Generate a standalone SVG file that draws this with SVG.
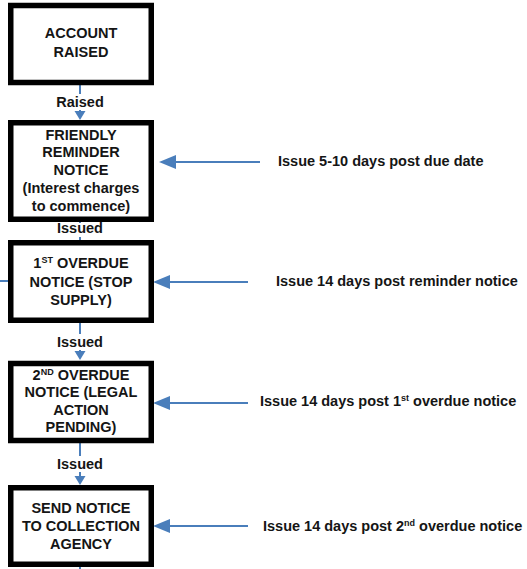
<svg xmlns="http://www.w3.org/2000/svg" width="527" height="569" viewBox="0 0 527 569">
<defs>
<style>
.box{fill:#fff;stroke:#000;stroke-width:5.5}
.t{font-family:"Liberation Sans",Arial,sans-serif;font-weight:bold;font-size:14.5px;fill:#151515;text-anchor:middle}
.r{font-family:"Liberation Sans",Arial,sans-serif;font-weight:bold;font-size:14.5px;fill:#151515}
.c{stroke:#4a7ebb;stroke-width:2;fill:none}
.lbl{fill:#fff}
</style>
<marker id="vh" markerUnits="userSpaceOnUse" markerWidth="12" markerHeight="12" refX="4" refY="5.5" orient="auto"><path d="M0,0 L9,5.5 L0,11 z" fill="#4a7ebb"/></marker>
<marker id="hh" markerUnits="userSpaceOnUse" markerWidth="18" markerHeight="15" refX="7" refY="7" orient="auto"><path d="M0,0 L17,7 L0,14 z" fill="#4a7ebb"/></marker>
</defs>
<rect width="527" height="569" fill="#fff"/>
<g id="connectors">
<line class="c" x1="80" y1="85" x2="80" y2="115" marker-end="url(#vh)"/>
<line class="c" x1="80" y1="222" x2="80" y2="240"/>
<line class="c" x1="80" y1="323" x2="80" y2="355" marker-end="url(#vh)"/>
<line class="c" x1="80" y1="443" x2="80" y2="480" marker-end="url(#vh)"/>
<line class="c" x1="80" y1="566" x2="80" y2="569"/>
<line class="c" x1="0" y1="281" x2="9" y2="281"/>
<line class="c" x1="260" y1="162" x2="169" y2="162" marker-end="url(#hh)"/>
<line class="c" x1="248" y1="282" x2="163" y2="282" marker-end="url(#hh)"/>
<line class="c" x1="248" y1="403" x2="163" y2="403" marker-end="url(#hh)"/>
<line class="c" x1="248" y1="526" x2="163" y2="526" marker-end="url(#hh)"/>
<rect class="lbl" x="55" y="94" width="50" height="16"/>
<text class="t" x="80" y="107">Raised</text>
<rect class="lbl" x="55" y="223" width="50" height="14"/>
<text class="t" x="80" y="233">Issued</text>
<rect class="lbl" x="55" y="334" width="50" height="16"/>
<text class="t" x="80" y="347">Issued</text>
<rect class="lbl" x="55" y="456" width="50" height="16"/>
<text class="t" x="80" y="469">Issued</text>
<text class="r" x="278" y="166">Issue 5-10 days post due date</text>
<text class="r" x="276" y="286">Issue 14 days post reminder notice</text>
<text class="r" x="260" y="406">Issue 14 days post 1<tspan font-size="9" dy="-5">st</tspan><tspan dy="5"> overdue notice</tspan></text>
<text class="r" x="263" y="531">Issue 14 days post 2<tspan font-size="9" dy="-5">nd</tspan><tspan dy="5"> overdue notice</tspan></text>
</g>
<g id="account-raised">
<rect class="box" x="10.75" y="5.5" width="140.5" height="77"/>
<text class="t" x="81" y="38">ACCOUNT</text>
<text class="t" x="81" y="57">RAISED</text>
</g>
<g id="friendly-reminder">
<rect class="box" x="10.75" y="122.75" width="140.5" height="96.5"/>
<text class="t" x="81" y="140">FRIENDLY</text>
<text class="t" x="81" y="157">REMINDER</text>
<text class="t" x="81" y="175">NOTICE</text>
<text class="t" x="81" y="193">(Interest charges</text>
<text class="t" x="81" y="211">to commence)</text>
</g>
<g id="first-overdue">
<rect class="box" x="10.75" y="242.75" width="140.5" height="77.5"/>
<text class="t" x="81" y="268">1<tspan font-size="9" dy="-5">ST</tspan><tspan dy="5"> OVERDUE</tspan></text>
<text class="t" x="81" y="287">NOTICE (STOP</text>
<text class="t" x="81" y="305">SUPPLY)</text>
</g>
<g id="second-overdue">
<rect class="box" x="10.75" y="363.5" width="140.5" height="77"/>
<text class="t" x="81" y="380">2<tspan font-size="9" dy="-5">ND</tspan><tspan dy="5"> OVERDUE</tspan></text>
<text class="t" x="81" y="397">NOTICE (LEGAL</text>
<text class="t" x="81" y="415">ACTION</text>
<text class="t" x="81" y="432">PENDING)</text>
</g>
<g id="collection-agency">
<rect class="box" x="10.75" y="487.75" width="140.5" height="76.5"/>
<text class="t" x="81" y="513">SEND NOTICE</text>
<text class="t" x="81" y="531">TO COLLECTION</text>
<text class="t" x="81" y="549">AGENCY</text>
</g>
</svg>
